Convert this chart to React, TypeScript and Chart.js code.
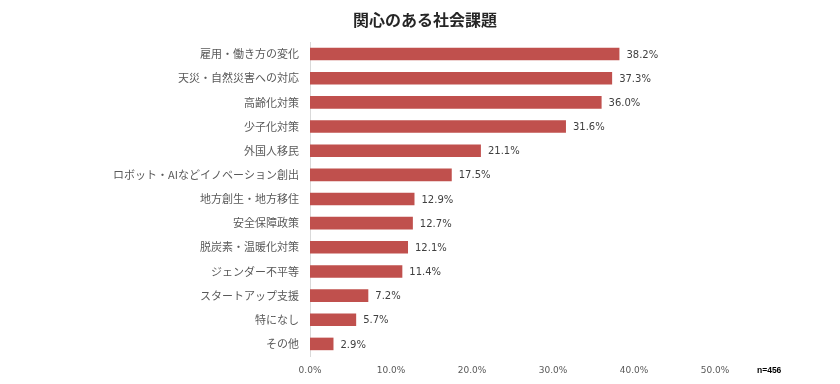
import React, { useEffect, useRef } from "react";
import { Chart, registerables } from "chart.js";

Chart.register(...registerables);

const TITLE = "関心のある社会課題";
const NOTE = "n=456";
const categories = [
  "雇用・働き方の変化",
  "天災・自然災害への対応",
  "高齢化対策",
  "少子化対策",
  "外国人移民",
  "ロボット・AIなどイノベーション創出",
  "地方創生・地方移住",
  "安全保障政策",
  "脱炭素・温暖化対策",
  "ジェンダー不平等",
  "スタートアップ支援",
  "特になし",
  "その他",
];
const values = [38.2, 37.3, 36.0, 31.6, 21.1, 17.5, 12.9, 12.7, 12.1, 11.4, 7.2, 5.7, 2.9];
const axisMax = 50;
const axisStep = 10;

const FONT = '"Noto Sans CJK JP", "Noto Sans", sans-serif';
const NUM_FONT = '"DejaVu Sans", Verdana, sans-serif';

const overlayPlugin = {
  id: "overlay",
  afterDatasetsDraw(chart: any) {
    const ctx = chart.ctx;
    const meta = chart.getDatasetMeta(0);
    ctx.save();
    ctx.font = `10px ${NUM_FONT}`;
    ctx.fillStyle = "#404040";
    ctx.textAlign = "left";
    ctx.textBaseline = "middle";
    meta.data.forEach((bar: any, i: number) => {
      ctx.fillText(values[i].toFixed(1) + "%", bar.x + 7, bar.y + 1);
    });
    ctx.restore();
  },
  afterDraw(chart: any) {
    const ctx = chart.ctx;
    ctx.save();
    ctx.font = `bold 16px ${FONT}`;
    ctx.fillStyle = "#262626";
    ctx.textAlign = "center";
    ctx.textBaseline = "middle";
    ctx.fillText(TITLE, 425, 20);
    ctx.font = `bold 8.5px "Liberation Sans", Arial, sans-serif`;
    ctx.fillStyle = "#000000";
    ctx.textAlign = "left";
    ctx.fillText(NOTE, 757, 371);
    ctx.restore();
  },
};

export default function App() {
  const ref = useRef<HTMLCanvasElement | null>(null);
  useEffect(() => {
    document.body.style.margin = "0";
    const canvas = ref.current;
    if (!canvas) return;
    const chart = new Chart(canvas, {
      type: "bar",
      data: {
        labels: categories,
        datasets: [
          {
            data: values,
            backgroundColor: "#C0504D",
            borderColor: "#C0504D",
            borderWidth: 0,
            categoryPercentage: 1,
            barPercentage: 0.52,
          },
        ],
      },
      options: {
        indexAxis: "y",
        animation: false,
        responsive: false,
        maintainAspectRatio: false,
        layout: { padding: { top: 42, right: 125, left: 0, bottom: 0 } },
        plugins: {
          legend: { display: false },
          title: { display: false },
          tooltip: { enabled: false },
        },
        scales: {
          x: {
            min: 0,
            max: axisMax,
            grid: { display: false, drawTicks: false },
            border: { display: false },
            afterFit: (s: any) => {
              s.height = 28;
            },
            ticks: {
              stepSize: axisStep,
              padding: 9,
              color: "#595959",
              font: { family: NUM_FONT, size: 9 },
              callback: (v: any) => Number(v).toFixed(1) + "%",
              maxRotation: 0,
            },
          },
          y: {
            grid: { display: false, drawTicks: false },
            border: { display: true, color: "#d9d9d9", width: 1 },
            afterFit: (s: any) => {
              s.width = 310;
            },
            ticks: {
              padding: 11,
              color: "#595959",
              font: { family: FONT, size: 11 },
              autoSkip: false,
            },
          },
        },
      },
      plugins: [overlayPlugin],
    });
    return () => chart.destroy();
  }, []);
  return (
    <div style={{ width: 840, height: 384, background: "#ffffff" }}>
      <canvas ref={ref} width={840} height={384} style={{ display: "block" }} />
    </div>
  );
}
